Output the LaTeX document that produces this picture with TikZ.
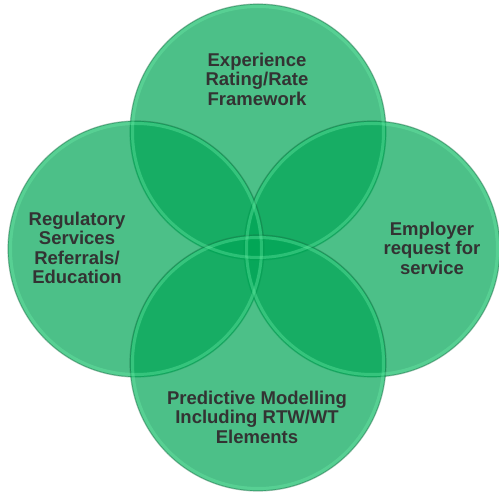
\documentclass[tikz,border=0pt]{standalone}
\usepackage{fontspec}
\setmainfont{Liberation Sans}
\usetikzlibrary{positioning}
\definecolor{petal}{RGB}{0,165,85}
\definecolor{petalrim}{RGB}{30,110,70}
\definecolor{petalglow}{RGB}{110,240,170}
\definecolor{labelgrey}{HTML}{333333}
\tikzset{
  petal/.style={circle, minimum size=256pt, inner sep=0pt, fill=petal, fill opacity=0.7,
    draw=petalrim, draw opacity=0.4, line width=1.2pt},
  petal glow/.style={draw=petalglow, draw opacity=0.35, line width=3pt},
  petal label/.style={align=center, text=labelgrey, font=\fontsize{18.5}{19.5}\selectfont\bfseries}
}
\begin{document}
\begin{tikzpicture}[x=1pt,y=-1pt]
  \useasboundingbox (0,0) rectangle (499,494);
  % the four circles
  \node[petal] (rating) at (258,132) {};
  \node[petal] (employer) at (372,249) {};
  \node[petal] (regulatory) at (136,249) {};
  \node[petal] (predictive) at (258,363) {};
  \foreach \c in {rating,employer,regulatory,predictive}
    \draw[petal glow] (\c.center) circle (125.5pt);
  % labels
  \node[petal label] (ratingtext) at (257,79) {Experience\\Rating/Rate\\Framework};
  \node[petal label] (employertext) at (432,248) {Employer\\request for\\service};
  \node[petal label] (regulatorytext) at (77,248) {Regulatory\\Services\\Referrals/\\Education};
  \node[petal label] (predictivetext) at (257,417) {Predictive Modelling\\Including RTW/WT\\Elements};
\end{tikzpicture}
\end{document}
